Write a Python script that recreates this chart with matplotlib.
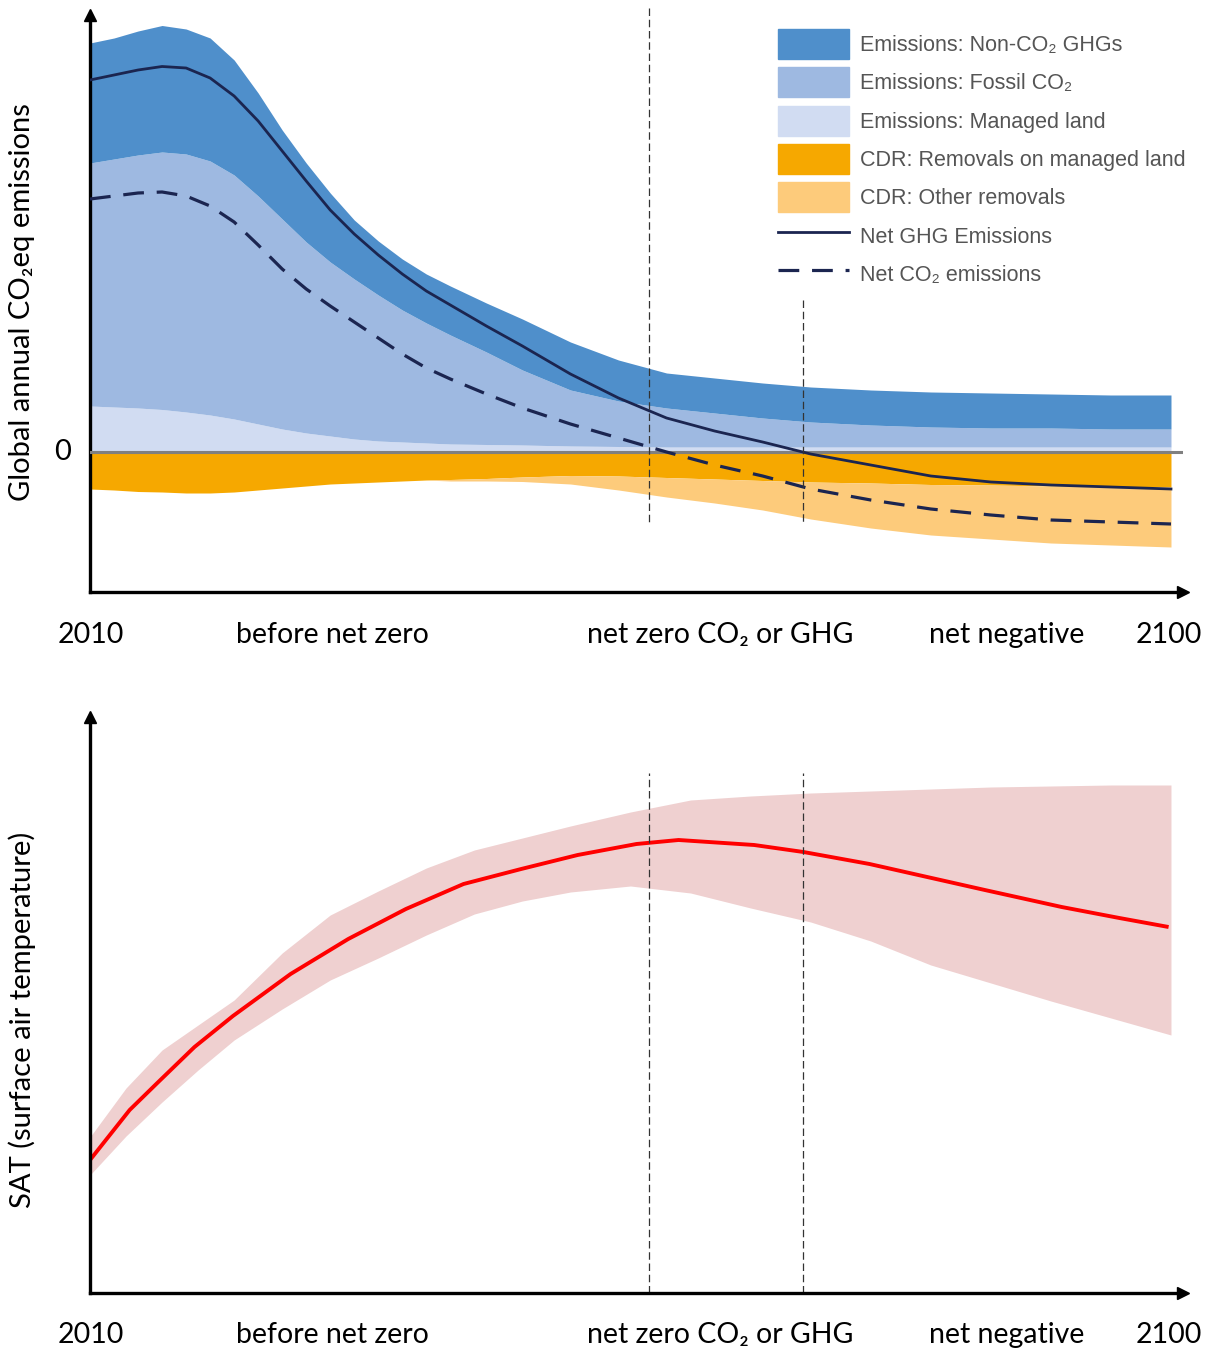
import numpy as np
import matplotlib
matplotlib.use("Agg")
import matplotlib.pyplot as plt
from matplotlib.patches import Patch
from matplotlib.lines import Line2D
from matplotlib.transforms import blended_transform_factory

# --- emissions panel (schematic units, 0 = net zero) ---
years = [2010, 2012, 2014, 2016, 2018, 2020, 2022, 2024, 2026, 2028, 2030,
         2032, 2034, 2036, 2038, 2040, 2043, 2046, 2050, 2054, 2058, 2062,
         2066, 2070, 2075, 2080, 2085, 2090, 2095, 2100]
managed_land = [4.6, 4.5, 4.4, 4.25, 4.0, 3.7, 3.3, 2.8, 2.3, 1.9, 1.6,
                1.3, 1.1, 1.0, 0.9, 0.8, 0.75, 0.7, 0.6, 0.55, 0.5, 0.5,
                0.5, 0.5, 0.5, 0.5, 0.5, 0.5, 0.5, 0.5]
fossil_co2 = [24.3, 24.8, 25.3, 25.75, 25.8, 25.4, 24.4, 22.8, 21.0, 19.1, 17.4,
              16.0, 14.6, 13.2, 12.0, 10.9, 9.25, 7.5, 5.6, 4.55, 3.9, 3.4,
              2.9, 2.5, 2.2, 2.0, 1.9, 1.9, 1.8, 1.8]
non_co2 = [12.0, 12.1, 12.4, 12.65, 12.5, 12.3, 11.5, 10.3, 8.9, 7.9, 6.9,
           5.9, 5.4, 5.1, 4.9, 4.9, 4.9, 5.1, 4.8, 4.1, 3.5, 3.5,
           3.5, 3.5, 3.5, 3.5, 3.5, 3.4, 3.4, 3.4]
cdr_land = [-3.7, -3.8, -3.95, -4.0, -4.1, -4.1, -4.0, -3.8, -3.6, -3.4, -3.2,
            -3.1, -3.0, -2.9, -2.8, -2.75, -2.65, -2.5, -2.35, -2.4, -2.55, -2.7,
            -2.85, -3.0, -3.1, -3.25, -3.3, -3.4, -3.45, -3.5]
cdr_other = [0.0, 0.0, 0.0, 0.0, 0.0, 0.0, 0.0, 0.0, 0.0, 0.0, 0.0,
             0.0, 0.0, 0.0, 0.0, -0.15, -0.25, -0.45, -0.85, -1.4, -1.95, -2.4,
             -2.95, -3.7, -4.5, -5.05, -5.4, -5.7, -5.85, -6.0]
net_ghg = [37.2, 37.7, 38.2, 38.55, 38.4, 37.4, 35.6, 33.1, 30.1, 27.1, 24.2,
           21.8, 19.7, 17.8, 16.1, 14.7, 12.6, 10.6, 7.8, 5.4, 3.4, 2.1,
           1.0, -0.2, -1.3, -2.4, -3.0, -3.3, -3.5, -3.7]
net_co2 = [25.3, 25.6, 25.9, 26.0, 25.6, 24.6, 23.0, 20.7, 18.3, 16.3, 14.6,
           13.0, 11.4, 9.8, 8.4, 7.3, 5.8, 4.4, 2.8, 1.4, 0.0, -1.3,
           -2.4, -3.7, -4.8, -5.7, -6.3, -6.8, -7.0, -7.2]

# --- temperature panel ---
sat_years = [2010, 2013, 2016, 2019, 2022, 2026, 2030, 2034, 2038, 2042, 2046,
             2050, 2055, 2060, 2065, 2070, 2075, 2080, 2085, 2090, 2095, 2100]
sat_high = [15.6, 20.5, 24.3, 26.8, 29.3, 34.0, 37.8, 40.2, 42.5, 44.3, 45.5,
            46.7, 48.1, 49.3, 49.7, 50.0, 50.2, 50.4, 50.6, 50.7, 50.8, 50.8]
sat_low = [11.8, 15.7, 19.1, 22.3, 25.3, 28.4, 31.3, 33.5, 35.8, 37.9, 39.2,
           40.1, 40.7, 40.0, 38.5, 37.1, 35.2, 32.8, 31.0, 29.2, 27.5, 25.8]
mid_years = [2010, 2013.3, 2015.6, 2018.7, 2021.9, 2026.7, 2031.5, 2036.3, 2041.1,
             2045.9, 2050.6, 2055.5, 2059.0, 2065.3, 2069.4, 2074.9, 2079.7,
             2084.5, 2090.9, 2095.7, 2099.8]
sat_mid = [13.3, 18.3, 21.0, 24.6, 27.7, 31.9, 35.4, 38.4, 40.9, 42.4, 43.8,
           44.9, 45.3, 44.8, 44.1, 42.9, 41.6, 40.3, 38.6, 37.5, 36.6]

net_zero_co2_year = 2056.5
net_zero_ghg_year = 2069.4

xlabels = ['2010', 'before net zero', 'net zero CO\u2082 or GHG', 'net negative', '2100']
xlabel_years = [2010.1, 2030.15, 2062.5, 2086.3, 2099.8]

LABEL_FONT = ['Lato', 'DejaVu Sans']
LEGEND_FONT = ['Liberation Sans', 'DejaVu Sans']

c_nonco2 = '#4f8fcb'
c_fossil = '#9eb9e1'
c_land = '#d1dcf2'
c_cdr_land = '#f6a800'
c_cdr_other = '#fdcb7b'
c_navy = '#1b2550'
co2_dash = (0, (6.5, 4))
guide_dash = (0, (6, 3))

fig = plt.figure(figsize=(12.06, 13.52), dpi=100)
ax1 = fig.add_axes([90 / 1206, 1 - 592 / 1352, 1093 / 1206, 577 / 1352])
ax2 = fig.add_axes([90 / 1206, 1 - 1293 / 1352, 1093 / 1206, 576 / 1352])

# stacked emissions above zero, removals below
x = np.array(years)
top_land = np.array(managed_land)
top_fossil = top_land + np.array(fossil_co2)
top_nonco2 = top_fossil + np.array(non_co2)
bot_land = np.array(cdr_land)
bot_other = bot_land + np.array(cdr_other)

ax1.fill_between(x, 0, top_land, color=c_land, lw=0)
ax1.fill_between(x, top_land, top_fossil, color=c_fossil, lw=0)
ax1.fill_between(x, top_fossil, top_nonco2, color=c_nonco2, lw=0)
ax1.fill_between(x, 0, bot_land, color=c_cdr_land, lw=0)
ax1.fill_between(x, bot_land, bot_other, color=c_cdr_other, lw=0)
ax1.axhline(0, color='#808080', lw=2.2, zorder=3)
ax1.plot(x, net_ghg, color=c_navy, lw=2.0, zorder=4)
ax1.plot(x, net_co2, color=c_navy, lw=2.3, ls=co2_dash, zorder=4)

ax1.plot([net_zero_co2_year] * 2, [44.4, -7.3], color='#333333', lw=0.9, ls=guide_dash,
         zorder=5, clip_on=False)
ax1.plot([net_zero_ghg_year] * 2, [15.2, -7.3], color='#333333', lw=0.9, ls=guide_dash, zorder=5)

ax2.fill_between(sat_years, sat_low, sat_high, color='#efd0d0', lw=0)
ax2.plot(mid_years, sat_mid, color='#ff0000', lw=2.8, solid_capstyle='butt')
ax2.plot([net_zero_co2_year] * 2, [0, 52], color='#333333', lw=0.9, ls=guide_dash)
ax2.plot([net_zero_ghg_year] * 2, [0, 52], color='#333333', lw=0.9, ls=guide_dash)

ax1.set_ylim(-14, 43.7)
ax2.set_ylim(0, 57.6)

for ax in (ax1, ax2):
    ax.set_xlim(2010, 2101)
    ax.spines['top'].set_visible(False)
    ax.spines['right'].set_visible(False)
    ax.spines['left'].set_linewidth(2.4)
    ax.spines['bottom'].set_linewidth(2.4)
    ax.set_xticks([])
    ax.set_yticks([])
    # arrow heads on the axes
    ax.plot(0, 1, '^k', ms=9, transform=ax.transAxes, clip_on=False)
    ax.plot(1, 0, '>k', ms=9, transform=ax.transAxes, clip_on=False)

ax1.text(2010 - 2.3, 0, '0', ha='center', va='center', fontsize=21, family=LABEL_FONT)

# category labels under each x axis
for ax, ypix in ((ax1, 635), (ax2, 1335)):
    trans = blended_transform_factory(ax.transData, fig.transFigure)
    for lab, xp in zip(xlabels, xlabel_years):
        ax.text(xp, 1 - ypix / 1352, lab, ha='center', va='center', fontsize=20.5,
                family=LABEL_FONT, transform=trans)

fig.text(22 / 1206, 1 - 302 / 1352, 'Global annual CO\u2082eq emissions', rotation=90,
         ha='center', va='center', fontsize=21, family=LABEL_FONT)
fig.text(22 / 1206, 1 - 1020 / 1352, 'SAT (surface air temperature)', rotation=90,
         ha='center', va='center', fontsize=21, family=LABEL_FONT)

handles = [
    Patch(color=c_nonco2, label='Emissions: Non-CO\u2082 GHGs'),
    Patch(color=c_fossil, label='Emissions: Fossil CO\u2082'),
    Patch(color=c_land, label='Emissions: Managed land'),
    Patch(color=c_cdr_land, label='CDR: Removals on managed land'),
    Patch(color=c_cdr_other, label='CDR: Other removals'),
    Line2D([], [], color=c_navy, lw=2.0, label='Net GHG Emissions'),
    Line2D([], [], color=c_navy, lw=2.3, ls=co2_dash, label='Net CO\u2082 emissions'),
]
leg = ax1.legend(handles=handles, loc='upper left', bbox_to_anchor=(778 / 1206, 1 - 29 / 1352),
                 bbox_transform=fig.transFigure, frameon=False,
                 prop={'family': LEGEND_FONT, 'size': 15.5},
                 handlelength=3.3, handleheight=1.75, labelspacing=0.4, handletextpad=0.5,
                 borderaxespad=0, borderpad=0)
for t in leg.get_texts():
    t.set_color('#555555')

fig.savefig('out.png', dpi=100)
